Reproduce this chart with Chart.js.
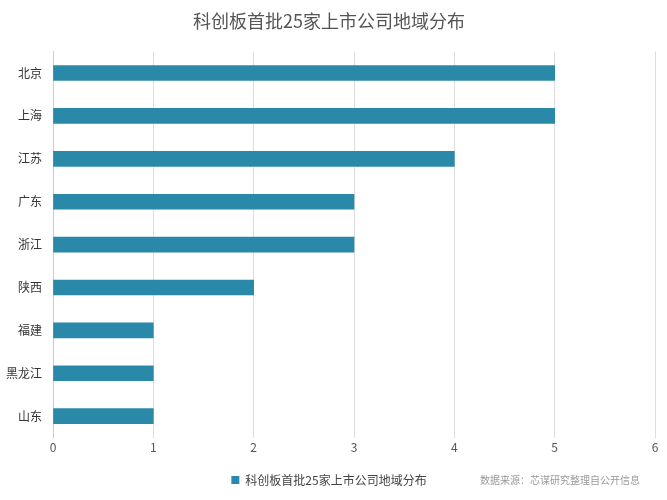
<!DOCTYPE html>
<html><head><meta charset="utf-8">
<script src="https://cdn.jsdelivr.net/npm/chart.js@4"></script>
<style>body{margin:0;background:#fff}#wrap{width:667px;height:500px}</style>
</head><body><div id="wrap"><canvas id="c"></canvas></div>
<script>
const regions = ['北京','上海','江苏','广东','浙江','陕西','福建','黑龙江','山东'];
const counts = [5,5,4,3,3,2,1,1,1];
const seriesName = '科创板首批25家上市公司地域分布';
const sourceNote = '数据来源：芯谋研究整理自公开信息';

Chart.defaults.font.family = '"Noto Sans CJK SC", "Noto Sans", sans-serif';

const notePlugin = {
  id: 'note',
  afterDraw(chart) {
    const ctx = chart.ctx;
    ctx.save();
    ctx.font = '10px "Noto Sans CJK SC"';
    ctx.fillStyle = '#999';
    ctx.textAlign = 'right';
    ctx.textBaseline = 'middle';
    ctx.fillText(sourceNote, 640, 480);
    ctx.restore();
  }
};

new Chart(document.getElementById('c'), {
  type: 'bar',
  data: {
    labels: regions,
    datasets: [{ label: seriesName, data: counts, backgroundColor: '#2a88a8', barThickness: 15 }]
  },
  options: {
    indexAxis: 'y',
    responsive: true,
    maintainAspectRatio: false,
    animation: false,
    layout: { padding: { left: 3, right: 12, top: 0, bottom: 4 } },
    plugins: {
      title: { display: true, text: seriesName, color: '#555', font: { size: 18, weight: 'normal' }, padding: { top: 10, bottom: 20 } },
      legend: {
        position: 'bottom',
        labels: { boxWidth: 8, boxHeight: 8, color: '#444', font: { size: 12 }, padding: 16 }
      },
      tooltip: { enabled: false }
    },
    scales: {
      x: {
        min: 0, max: 6,
        ticks: { stepSize: 1, color: '#555', font: { size: 12 } },
        grid: { color: '#ddd', drawTicks: false },
        border: { display: false }
      },
      y: {
        ticks: { color: '#333', font: { size: 12 } },
        grid: { display: false },
        border: { color: '#ccc' }
      }
    }
  },
  plugins: [notePlugin]
});
</script></body></html>
